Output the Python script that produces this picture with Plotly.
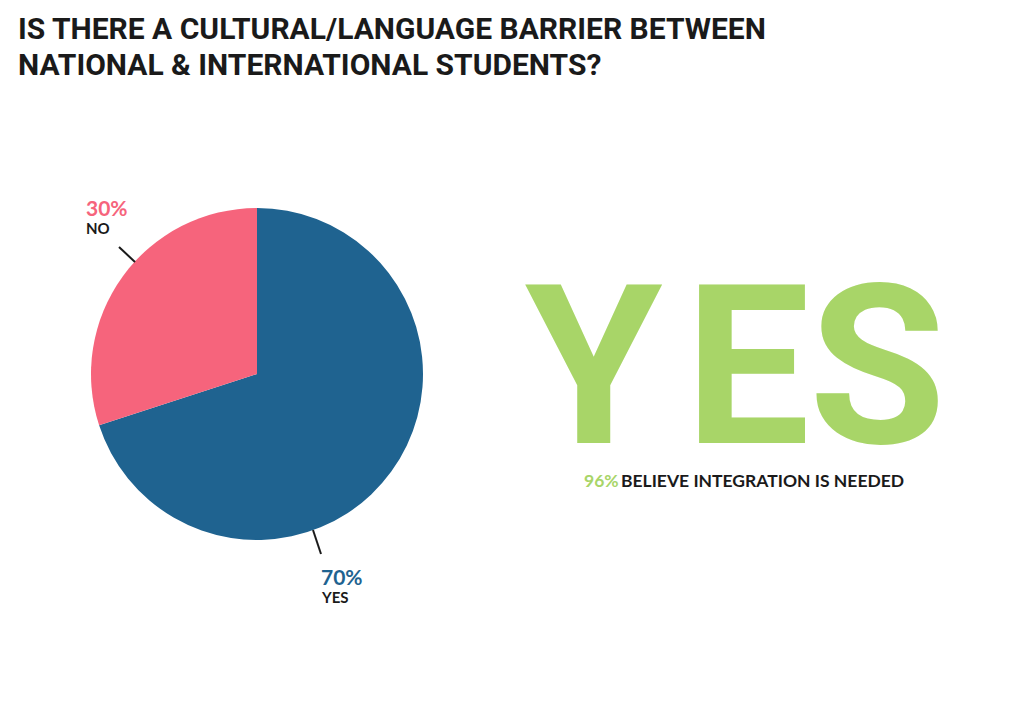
import plotly.graph_objects as go

# data
answers = ["YES", "NO"]
shares = [70, 30]
colors = ["#1F6390", "#F6647C"]
big_word = "YES"
integration_share = 96
integration_text = "BELIEVE INTEGRATION IS NEEDED"
title_lines = ["IS THERE A CULTURAL/LANGUAGE BARRIER BETWEEN",
               "NATIONAL & INTERNATIONAL STUDENTS?"]

W, H = 1024, 724
OFF = 8  # page body margin


def px(x):
    return (x - OFF) / W


def py(y):
    return 1 - (y - OFF) / H


fig = go.Figure()

fig.add_trace(go.Pie(
    labels=answers,
    values=shares,
    sort=False,
    direction="clockwise",
    rotation=0,
    marker=dict(colors=colors, line=dict(width=0)),
    textinfo="none",
    hoverinfo="label+percent",
    showlegend=False,
    domain=dict(x=[px(91), px(423)], y=[py(540), py(208)]),
))

annotations = []

# title
for i, line in enumerate(title_lines):
    annotations.append(dict(
        x=px(16), y=py(28 + 37 * i), xref="paper", yref="paper", xanchor="left", yanchor="middle",
        text=f"<b>{line}</b>", showarrow=False,
        font=dict(family="Roboto", size=30, color="#1a1a1a"),
    ))

# slice labels: position of the pct text (left, middle)
label_pos = {"NO": (84, 207), "YES": (319, 576)}
for a, s, c in zip(answers, shares, colors):
    x, y = label_pos[a]
    annotations.append(dict(
        x=px(x), y=py(y), xref="paper", yref="paper", xanchor="left", yanchor="middle",
        text=f"<b>{s}%</b>", showarrow=False,
        font=dict(family="Lato", size=21, color=c)))
    annotations.append(dict(
        x=px(x), y=py(y + 21), xref="paper", yref="paper", xanchor="left", yanchor="middle",
        text=f"<b>{a}</b>", showarrow=False,
        font=dict(family="Lato", size=15, color="#1a1a1a")))

# big YES, one letter at a time for the wide spacing
letter_x = [594, 747, 877]
for ch, x in zip(big_word, letter_x):
    annotations.append(dict(
        x=px(x), y=py(367), xref="paper", yref="paper", xanchor="center", yanchor="middle",
        text=f"<b>{ch}</b>", showarrow=False, height=200,
        font=dict(family="Roboto", size=222, color="#A8D568")))

annotations.append(dict(
    x=px(582), y=py(480), xref="paper", yref="paper", xanchor="left", yanchor="middle",
    text=f"<b>{integration_share}%</b>", showarrow=False,
    font=dict(family="Lato", size=17.5, color="#A8D568")))
annotations.append(dict(
    x=px(619), y=py(480), xref="paper", yref="paper", xanchor="left", yanchor="middle",
    text=f"<b>{integration_text}</b>", showarrow=False,
    font=dict(family="Lato", size=17.5, color="#1a1a1a")))

shapes = [
    dict(type="line", xref="paper", yref="paper",
         x0=px(119), y0=py(247), x1=px(135), y1=py(262),
         line=dict(color="#1a1a1a", width=2)),
    dict(type="line", xref="paper", yref="paper",
         x0=px(313), y0=py(530), x1=px(321), y1=py(554),
         line=dict(color="#1a1a1a", width=2)),
]

fig.update_layout(
    width=W, height=H,
    margin=dict(l=0, r=0, t=0, b=0),
    paper_bgcolor="white",
    plot_bgcolor="white",
    annotations=annotations,
    shapes=shapes,
)

fig.write_html("out.html")
